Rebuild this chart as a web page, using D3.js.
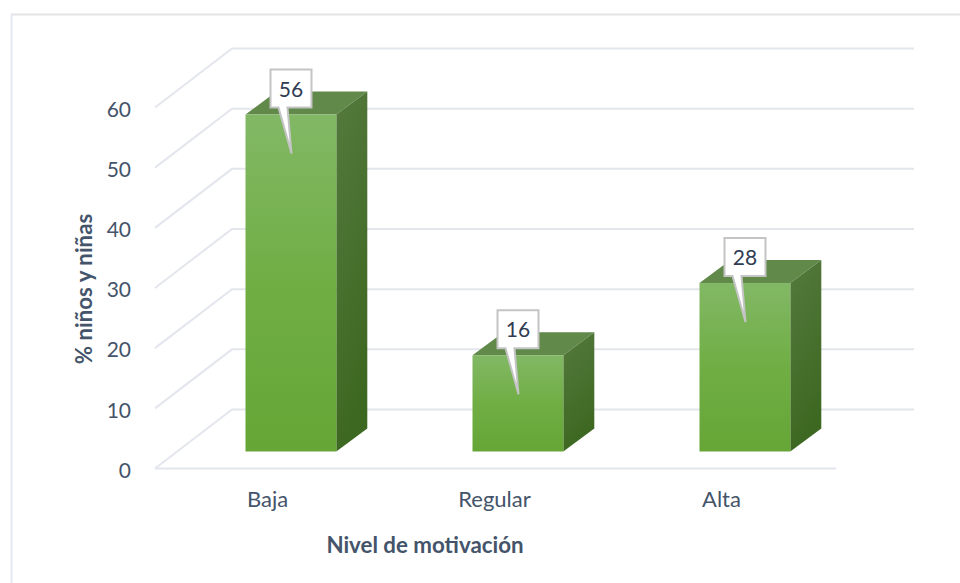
<!DOCTYPE html>
<html>
<head>
<meta charset="utf-8">
<script src="https://d3js.org/d3.v7.min.js"></script>
<style>
  html, body { margin: 0; padding: 0; background: #fff; }
  svg { display: block; }
  text { font-family: Lato, "Open Sans", sans-serif; }
</style>
</head>
<body>
<script>
// Chart data
var categories = ["Baja", "Regular", "Alta"];
var values = [56, 16, 28];
var yTicks = [0, 10, 20, 30, 40, 50, 60];
var xTitle = "Nivel de motivación";
var yTitle = "% niños y niñas";

var svgWidth = 960;
var svgHeight = 583;

// 3D offsets: the wall sits behind the floor, the bars have their own smaller depth
var wallDepth = { x: 77, y: -59 };
var barDepth = { x: 31, y: -23 };
var barShift = { x: 22.4, y: -17 };

var textColor = "#44546a";
var gridColor = "#e3e6ec";

var svg = d3.select("body")
    .append("svg")
    .attr("width", svgWidth)
    .attr("height", svgHeight);

var xScale = d3.scaleBand()
    .domain(categories)
    .range([155, 836])
    .paddingInner(0.6)
    .paddingOuter(0.3);

var yScale = d3.scaleLinear()
    .domain([0, 60])
    .range([468.5, 107.5]);

// Gradients for the bar faces
var defs = svg.append("defs");

function addGradient(id, stops, x2, y2) {
  var grad = defs.append("linearGradient")
      .attr("id", id)
      .attr("x1", "0").attr("y1", "0")
      .attr("x2", x2).attr("y2", y2);
  stops.forEach(function (s) {
    grad.append("stop").attr("offset", s[0]).attr("stop-color", s[1]);
  });
}

addGradient("frontFill", [[0, "#82b865"], [0.5, "#70ae44"], [1, "#65a636"]], 0, 1);
addGradient("sideFill", [[0, "#54793d"], [1, "#3d6821"]], 0.25, 1);

// Outer frame, only top and left are visible
svg.append("path")
    .attr("d", "M11,14.5H960")
    .attr("fill", "none")
    .attr("stroke", "#e3e4e6")
    .attr("stroke-width", 2);

svg.append("path")
    .attr("d", "M11.5,14V583")
    .attr("fill", "none")
    .attr("stroke", "#e3e8f2")
    .attr("stroke-width", 2);

// Grid lines: diagonal side wall, then back wall
var gridGroup = svg.append("g")
    .attr("fill", "none")
    .attr("stroke", gridColor)
    .attr("stroke-width", 2);

gridGroup.selectAll(".grid")
    .data(yTicks)
    .enter()
    .append("path")
    .attr("class", "grid")
    .attr("d", function (d) {
      var y0 = yScale(d);
      return "M" + xScale.range()[0] + "," + y0 +
          "L" + (xScale.range()[0] + wallDepth.x) + "," + (y0 + wallDepth.y) +
          "H914";
    });

// Front edge of the floor
gridGroup.append("path")
    .attr("d", "M" + xScale.range()[0] + "," + yScale(0) + "H" + xScale.range()[1]);

// Axes
var leftAxis = d3.axisLeft(yScale).tickValues(yTicks).tickSize(0).tickPadding(0);
var bottomAxis = d3.axisBottom(xScale).tickSize(0).tickPadding(0);

var yAxisGroup = svg.append("g")
    .attr("transform", "translate(131,2)")
    .call(leftAxis);

var xAxisGroup = svg.append("g")
    .attr("transform", "translate(-1,491)")
    .call(bottomAxis);

yAxisGroup.select(".domain").remove();
xAxisGroup.select(".domain").remove();

yAxisGroup.selectAll("text")
    .attr("font-size", 21)
    .attr("fill", textColor)
    .style("font-family", "Lato, sans-serif");

xAxisGroup.selectAll("text")
    .attr("font-size", 22)
    .attr("fill", textColor)
    .style("font-family", "Lato, sans-serif");

// Axis titles
svg.append("text")
    .attr("x", 425)
    .attr("y", 553)
    .attr("text-anchor", "middle")
    .attr("font-size", 22.3)
    .attr("font-weight", "bold")
    .attr("fill", textColor)
    .text(xTitle);

svg.append("text")
    .attr("transform", "translate(92,289) rotate(-90)")
    .attr("text-anchor", "middle")
    .attr("font-size", 22.3)
    .attr("font-weight", "bold")
    .attr("fill", textColor)
    .text(yTitle);

// Bars, one group per category
var barData = categories.map(function (c, i) {
  return { category: c, value: values[i] };
});

var bars = svg.selectAll(".bar")
    .data(barData)
    .enter()
    .append("g")
    .attr("class", "bar")
    .attr("transform", function (d) {
      return "translate(" + (xScale(d.category) + barShift.x) + "," + barShift.y + ")";
    });

var barWidth = xScale.bandwidth();

// top face
bars.append("path")
    .attr("fill", "#61894a")
    .attr("d", function (d) {
      var t = yScale(d.value);
      return "M0," + t + "l" + barDepth.x + "," + barDepth.y +
          "h" + barWidth + "l" + (-barDepth.x) + "," + (-barDepth.y) + "Z";
    });

// side face
bars.append("path")
    .attr("fill", "url(#sideFill)")
    .attr("d", function (d) {
      var t = yScale(d.value);
      var b = yScale(0);
      return "M" + barWidth + "," + t + "l" + barDepth.x + "," + barDepth.y +
          "V" + (b + barDepth.y) + "L" + barWidth + "," + b + "Z";
    });

// front face
bars.append("rect")
    .attr("fill", "url(#frontFill)")
    .attr("x", 0)
    .attr("y", function (d) { return yScale(d.value); })
    .attr("width", barWidth)
    .attr("height", function (d) { return yScale(0) - yScale(d.value); });

// Data callouts
var callouts = bars.append("g")
    .attr("transform", function (d) {
      return "translate(25," + yScale(d.value) + ")";
    });

callouts.append("path")
    .attr("d", "M0,-45H41V-7H17L21,39L8,-7H0Z")
    .attr("fill", "#fff")
    .attr("stroke", "#c4c4c4")
    .attr("stroke-width", 2)
    .attr("stroke-linejoin", "miter");

callouts.append("text")
    .attr("x", 20.5)
    .attr("y", -18)
    .attr("text-anchor", "middle")
    .attr("font-size", 21)
    .attr("fill", "#2f3c52")
    .text(function (d) { return d.value; });
</script>
</body>
</html>
